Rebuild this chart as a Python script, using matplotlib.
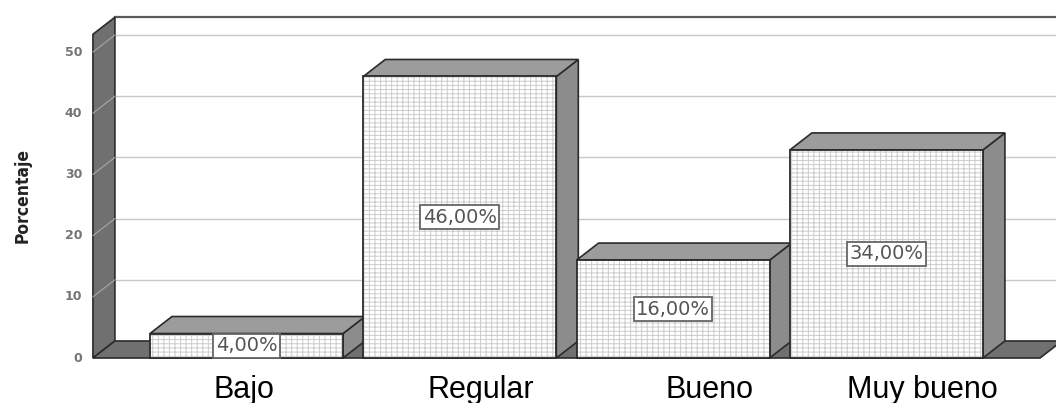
import matplotlib
matplotlib.use('Agg')
import matplotlib.pyplot as plt
from matplotlib.patches import Polygon, Rectangle

plt.rcParams['hatch.linewidth'] = 0.7

categories = ['Bajo', 'Regular', 'Bueno', 'Muy bueno']
porcentajes = [4.0, 46.0, 16.0, 34.0]
yticks = [0, 10, 20, 30, 40, 50]
ymax_wall = 52.9

# depth of the 3D box, in data units
dx, dy = 0.103, 2.78
bar_w = 0.905
wall_x = -0.72
floor_end = 3.72
# label offsets (category labels were placed by hand)
label_x = [-0.012, 1.10, 2.17, 3.17]

fig = plt.figure(figsize=(10.56, 4.03), dpi=100)
ax = fig.add_axes([0, 0, 1, 1])
ax.set_xlim(-1.1557, 3.795)
ax.set_ylim(-7.353, 58.5)
ax.axis('off')

dark = '#707070'
edge = '#2b2b2b'

# back wall gridlines and top border
for t in yticks[1:]:
    ax.plot([wall_x + dx, 3.9], [t + dy, t + dy], color='#c9c9c9', lw=1, zorder=1)
ax.plot([wall_x + dx, 3.9], [ymax_wall + dy] * 2, color='#5a5a5a', lw=1.6, zorder=1)

# left wall
ax.add_patch(Polygon([(wall_x, 0), (wall_x, ymax_wall), (wall_x + dx, ymax_wall + dy),
                      (wall_x + dx, dy)], closed=True, facecolor=dark, edgecolor=edge,
                     lw=1.2, zorder=2))
for t in yticks[1:]:
    ax.plot([wall_x, wall_x + dx], [t, t + dy], color='#a8a8a8', lw=0.8, zorder=3)

# floor
ax.add_patch(Polygon([(wall_x, 0), (floor_end, 0), (floor_end + dx, dy), (wall_x + dx, dy)],
                     closed=True, facecolor=dark, edgecolor=edge, lw=1.2, zorder=2))

# y tick labels on the front edge of the wall
for t in yticks:
    ax.text(wall_x - 0.05, t, str(t), ha='right', va='center', fontsize=9,
            fontweight='bold', color='#747474')

ax.text(-1.05, 26.5, 'Porcentaje', rotation=90, ha='center', va='center',
        fontsize=12.5, fontweight='bold', fontstretch='condensed', color='#222222',
        family=['DejaVu Sans'])

# bars, left to right so each front face covers the previous side face
for i, (cat, v) in enumerate(zip(categories, porcentajes)):
    x0 = i - bar_w / 2
    x1 = i + bar_w / 2
    z = 4 + i
    ax.add_patch(Polygon([(x1, 0), (x1 + dx, dy), (x1 + dx, v + dy), (x1, v)], closed=True,
                         facecolor='#8c8c8c', edgecolor=edge, lw=1.2, zorder=z))
    ax.add_patch(Polygon([(x0, v), (x0 + dx, v + dy), (x1 + dx, v + dy), (x1, v)], closed=True,
                         facecolor='#9c9c9c', edgecolor=edge, lw=1.2, zorder=z))
    # dotted fill, then the outline on top
    ax.add_patch(Rectangle((x0, 0), bar_w, v, facecolor='white', edgecolor='#cccccc',
                           hatch='|||----', lw=0, zorder=z))
    ax.add_patch(Rectangle((x0, 0), bar_w, v, facecolor='none', edgecolor=edge,
                           lw=1.3, zorder=z + 0.2))
    ax.text(i, v / 2, f'{v:.2f}%'.replace('.', ','), ha='center', va='center',
            fontsize=14, color='#555555', zorder=z + 0.5,
            bbox=dict(boxstyle='square,pad=0.12', facecolor='white',
                      edgecolor='#666666', lw=1.3))

for lx, cat in zip(label_x, categories):
    ax.text(lx, -6.54, cat, ha='center', va='baseline', fontsize=22,
            family=['Liberation Sans', 'DejaVu Sans'], color='black')

fig.savefig('out.png', dpi=100)
